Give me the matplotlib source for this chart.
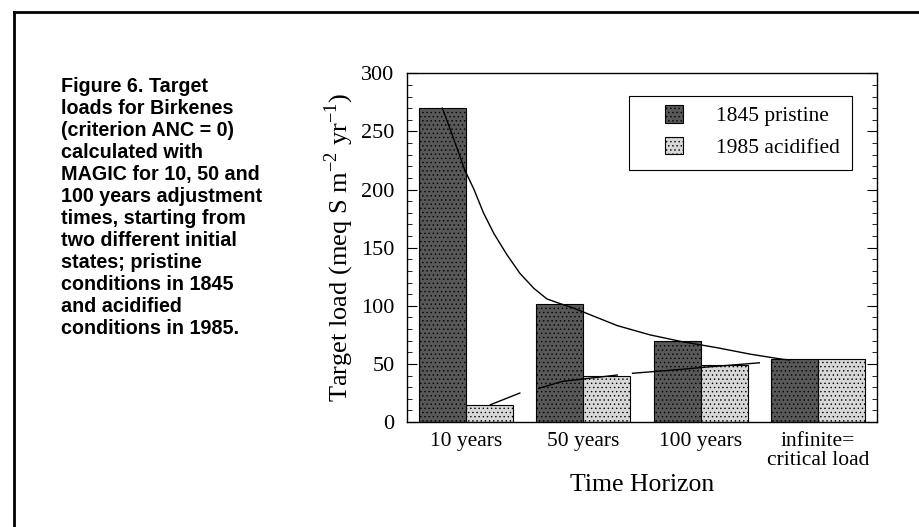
import matplotlib
matplotlib.use('Agg')
import matplotlib.pyplot as plt
from matplotlib.lines import Line2D
from matplotlib.patches import Rectangle
from matplotlib.ticker import MultipleLocator
import numpy as np

# data
horizons = ['10 years', '50 years', '100 years', 'infinite=\ncritical load']
pristine_1845 = [270, 102, 70, 54]
acidified_1985 = [15, 40, 49, 54]

# solid fitted curve through the pristine bars
curve_x = [-0.20, -0.13, -0.08, -0.01, 0.07, 0.15, 0.24, 0.35, 0.46, 0.58, 0.69, 0.80,
           0.92, 1.03, 1.29, 1.57, 1.85, 2.14, 2.42, 2.70, 2.76]
curve_y = [270, 251, 237, 217, 200, 180, 162, 144, 128, 115, 106, 102,
           98, 93.5, 83, 75, 69, 64, 58.5, 54, 53.5]

# broken curve through the acidified bars (three visible pieces)
low_seg1_x = [0.21, 0.46]
low_seg1_y = [15, 25]
low_seg2_x = [0.62, 0.82, 1.29]
low_seg2_y = [29, 35, 40.5]
low_seg3_x = [1.42, 1.85, 2.01, 2.50]
low_seg3_y = [42, 45.5, 47, 51]

serif = ['Liberation Serif', 'DejaVu Serif']
plt.rcParams['hatch.linewidth'] = 0.5

fig = plt.figure(figsize=(9.19, 5.27), dpi=100)
ax = fig.add_axes([0.443, 0.199, 0.511, 0.662])

x = np.arange(len(horizons))
w = 0.4
ax.bar(x - w / 2, pristine_1845, w, color='#585858', edgecolor='black',
       linewidth=0.8, hatch='....', label='1845 pristine', zorder=2)
ax.bar(x + w / 2, acidified_1985, w, color='#d8d8d8', edgecolor='black',
       linewidth=0.8, hatch='....', label='1985 acidified', zorder=2)

ax.plot(curve_x, curve_y, color='black', linewidth=1.0, zorder=3)
for sx, sy in [(low_seg1_x, low_seg1_y), (low_seg2_x, low_seg2_y), (low_seg3_x, low_seg3_y)]:
    ax.plot(sx, sy, color='black', linewidth=1.0, zorder=3)

ax.set_xlim(-0.5, 3.5)
ax.set_ylim(0, 300)
ax.yaxis.set_major_locator(MultipleLocator(50))
ax.yaxis.set_minor_locator(MultipleLocator(10))
ax.tick_params(axis='y', which='both', direction='in', right=True, left=True)
ax.tick_params(axis='y', which='major', length=7, labelsize=16, pad=9)
ax.tick_params(axis='y', which='minor', length=3.5)
ax.set_xticks(x)
ax.set_xticklabels(horizons, fontsize=15.5, linespacing=1.0)
ax.tick_params(axis='x', length=0, pad=7)
for lab in ax.get_xticklabels() + ax.get_yticklabels():
    lab.set_family(serif)

ax.set_ylabel('Target load (meq S m$^{\\mathregular{-2}}$ yr$^{\\mathregular{-1}}$)',
              family=serif, fontsize=19, labelpad=4)
ax.set_xlabel('Time Horizon', family=serif, fontsize=18.5, labelpad=3)

leg = ax.legend(loc='upper left', bbox_to_anchor=(0.549, 0.908), frameon=False,
                prop={'family': serif, 'size': 15.5}, handlelength=0.85,
                handleheight=0.85, handletextpad=1.5, borderpad=0,
                labelspacing=0.5, borderaxespad=0)
ax.add_patch(Rectangle((0.472, 0.722), 0.475, 0.212, transform=ax.transAxes,
                       fill=False, edgecolor='black', linewidth=0.8, zorder=4))

for s in ax.spines.values():
    s.set_linewidth(1.0)

caption = ('Figure 6. Target\nloads for Birkenes\n(criterion ANC = 0)\ncalculated with\n'
           'MAGIC for 10, 50 and\n100 years adjustment\ntimes, starting from\n'
           'two different initial\nstates; pristine\nconditions in 1845\n'
           'and acidified\nconditions in 1985.')
fig.text(0.066, 0.854, caption, family=['Liberation Sans', 'DejaVu Sans'],
         fontweight='bold', fontsize=14.2, va='top', ha='left', linespacing=1.2)

# page frame from the scanned document
fig.add_artist(Line2D([0.015, 1.0], [0.977, 0.977], color='black', linewidth=2))
fig.add_artist(Line2D([0.015, 0.015], [0.0, 0.977], color='black', linewidth=2))

fig.savefig('out.png', dpi=100)
